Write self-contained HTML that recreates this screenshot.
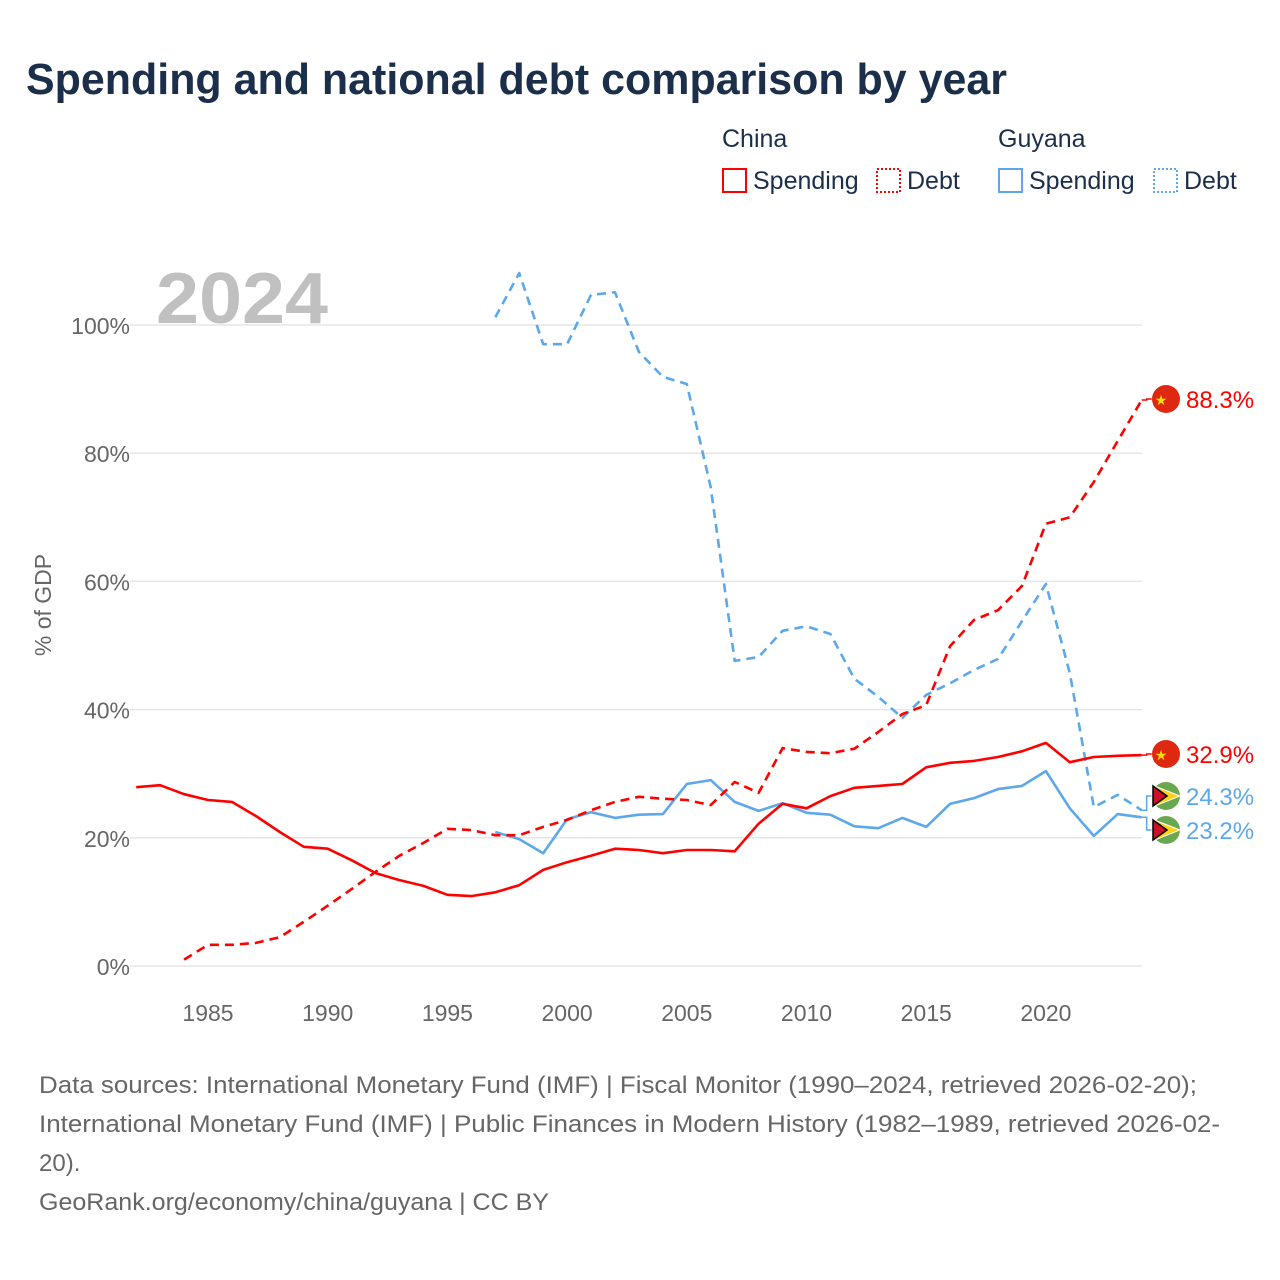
<!DOCTYPE html>
<html><head><meta charset="utf-8"><style>
body{margin:0;background:#fff;font-family:"Liberation Sans",sans-serif;}
#wrap{position:relative;width:1280px;height:1280px;overflow:hidden;}
</style></head><body>
<div id="wrap">
<svg id="chart" width="1280" height="1280" xmlns="http://www.w3.org/2000/svg">
<text x="26" y="94" font-size="44" font-weight="bold" fill="#1b2f4b" textLength="981" lengthAdjust="spacingAndGlyphs">Spending and national debt comparison by year</text>
<g font-size="25" fill="#1b2f4b">
<text x="722" y="147">China</text>
<text x="998" y="147">Guyana</text>
<g><rect x="723" y="169" width="23" height="23" fill="none" stroke="#f00" stroke-width="2"/><text x="753" y="189">Spending</text></g>
<g><rect x="877" y="169" width="23" height="23" fill="none" stroke="#f00" stroke-width="2" stroke-dasharray="2,2"/><text x="907" y="189">Debt</text></g>
<g><rect x="999" y="169" width="23" height="23" fill="none" stroke="#5ca8ea" stroke-width="2"/><text x="1029" y="189">Spending</text></g>
<g><rect x="1154" y="169" width="23" height="23" fill="none" stroke="#5ca8ea" stroke-width="2" stroke-dasharray="2,2"/><text x="1184" y="189">Debt</text></g>
</g>
<text x="156" y="323" font-size="72" font-weight="bold" fill="#c0c0c0" textLength="172" lengthAdjust="spacingAndGlyphs">2024</text>
<text transform="translate(51,605) rotate(-90)" text-anchor="middle" font-size="23" fill="#666">% of GDP</text>
<g id="grid"></g><g id="series"></g><g id="labels"></g>
<g font-size="24" fill="#666">
<text x="39" y="1093" textLength="1158" lengthAdjust="spacingAndGlyphs">Data sources: International Monetary Fund (IMF) | Fiscal Monitor (1990–2024, retrieved 2026-02-20);</text>
<text x="39" y="1132" textLength="1181" lengthAdjust="spacingAndGlyphs">International Monetary Fund (IMF) | Public Finances in Modern History (1982–1989, retrieved 2026-02-</text>
<text x="39" y="1171">20).</text>
<text x="39" y="1210" textLength="510" lengthAdjust="spacingAndGlyphs">GeoRank.org/economy/china/guyana | CC BY</text>
</g>
</svg>
</div>
<script>
const yTicks=[0,20,40,60,80,100];
const xTicks=[1985,1990,1995,2000,2005,2010,2015,2020];
const chinaStart=1982;
const chinaSpending=[27.9,28.2,26.8,25.9,25.6,23.4,20.9,18.6,18.3,16.5,14.5,13.4,12.5,11.1,10.9,11.5,12.6,15,16.2,17.2,18.3,18.1,17.6,18.1,18.1,17.9,22.2,25.3,24.6,26.5,27.8,28.1,28.4,31.0,31.7,32.0,32.6,33.5,34.8,31.8,32.6,32.8,32.9];
const chinaDebtStart=1984;
const chinaDebt=[1,3.3,3.3,3.6,4.5,6.9,9.4,12,14.7,17.2,19.2,21.4,21.2,20.4,20.4,21.7,22.8,24.3,25.6,26.4,26.1,25.9,25.1,28.7,27,34,33.4,33.2,33.9,36.5,39.3,40.7,49.9,54,55.5,59.3,69,70,75.5,81.9,88.3];
const guyanaStart=1997;
const guyanaSpending=[20.9,19.8,17.6,22.9,24,23.1,23.6,23.7,28.4,29,25.6,24.2,25.4,23.9,23.6,21.8,21.5,23.1,21.7,25.3,26.2,27.6,28.1,30.4,24.6,20.3,23.7,23.2];
const guyanaDebt=[101.2,108.1,97,97,104.7,105.1,95.8,91.9,90.8,74.7,47.6,48.2,52.3,53,51.8,44.8,42,38.7,42.3,44.1,46.2,47.9,53.8,59.6,45.7,24.8,26.7,24.3];
const NS="http://www.w3.org/2000/svg";
const X=yr=>208+(yr-1985)*23.94;
const Y=v=>966-v*6.41;
function mk(tag,attrs,parent){const e=document.createElementNS(NS,tag);for(const k in attrs)e.setAttribute(k,attrs[k]);parent.appendChild(e);return e;}
const grid=document.getElementById('grid');
yTicks.forEach(t=>{
 const l=mk('line',{x1:130,x2:1142,y1:Y(t),y2:Y(t),stroke:'#e6e6e6','stroke-width':1.5},grid);
 
 
 const tx=mk('text',{x:130,y:Y(t)+9,'text-anchor':'end','font-size':23,fill:'#666'},grid);
 tx.textContent=t+'%';
 
 
});
xTicks.forEach(t=>{
 const tx=mk('text',{x:X(t),y:1021,'text-anchor':'middle','font-size':23,fill:'#666'},grid);
 tx.textContent=t;
 
 
});
const ser=document.getElementById('series');
function line(vals,start,color,dash,name){
 const d=vals.map((v,i)=>(i?'L':'M')+X(start+i).toFixed(1)+','+Y(v).toFixed(1)).join(' ');
 const p=mk('path',{d:d,fill:'none',stroke:color,'stroke-width':2.6,'stroke-linejoin':'round'},ser);
 if(dash)p.setAttribute('stroke-dasharray','9,6');
 
 
}
line(guyanaDebt,guyanaStart,'#5ca8ea',true,'guyana-debt-line');
line(guyanaSpending,guyanaStart,'#5ca8ea',false,'guyana-spending-line');
line(chinaDebt,chinaDebtStart,'#f00',true,'china-debt-line');
line(chinaSpending,chinaStart,'#f00',false,'china-spending-line');
const lab=document.getElementById('labels');
function endLabel(v,ly,color,country,name){
 const x0=X(2024),y0=Y(v);
 const c=mk('path',{d:`M${x0},${y0} L${x0+5},${y0} L${x0+5},${ly} L${x0+10},${ly}`,fill:'none',stroke:color,'stroke-width':1.5},lab);
 
 
 const g=mk('g',{},lab);
 
 
 if(country==='cn'){
  mk('circle',{cx:1166,cy:ly,r:14,fill:'#de2910'},g);
  mk('text',{x:1161,y:ly+6,'font-size':14,fill:'#ffde00','text-anchor':'middle'},g).textContent='★';
 }else{
  mk('circle',{cx:1166,cy:ly,r:14,fill:'#6aa84f'},g);
  mk('path',{d:`M1152,${ly-11} L1180,${ly} L1152,${ly+11} Z`,fill:'#fcd116',stroke:'#fff','stroke-width':1},g);
  mk('path',{d:`M1153,${ly-10} L1167,${ly} L1153,${ly+10} Z`,fill:'#ce1126',stroke:'#000','stroke-width':1.5},g);
 }
 const t=mk('text',{x:1186,y:ly+9,'font-size':24,fill:color},lab);
 t.textContent=v.toFixed(1)+'%';
 
 
}
endLabel(chinaDebt[chinaDebt.length-1],399,'#f00','cn','china-debt-end');
endLabel(chinaSpending[chinaSpending.length-1],754,'#f00','cn','china-spending-end');
endLabel(guyanaDebt[guyanaDebt.length-1],796,'#5ca8ea','gy','guyana-debt-end');
endLabel(guyanaSpending[guyanaSpending.length-1],830,'#5ca8ea','gy','guyana-spending-end');
</script>
</body></html>
